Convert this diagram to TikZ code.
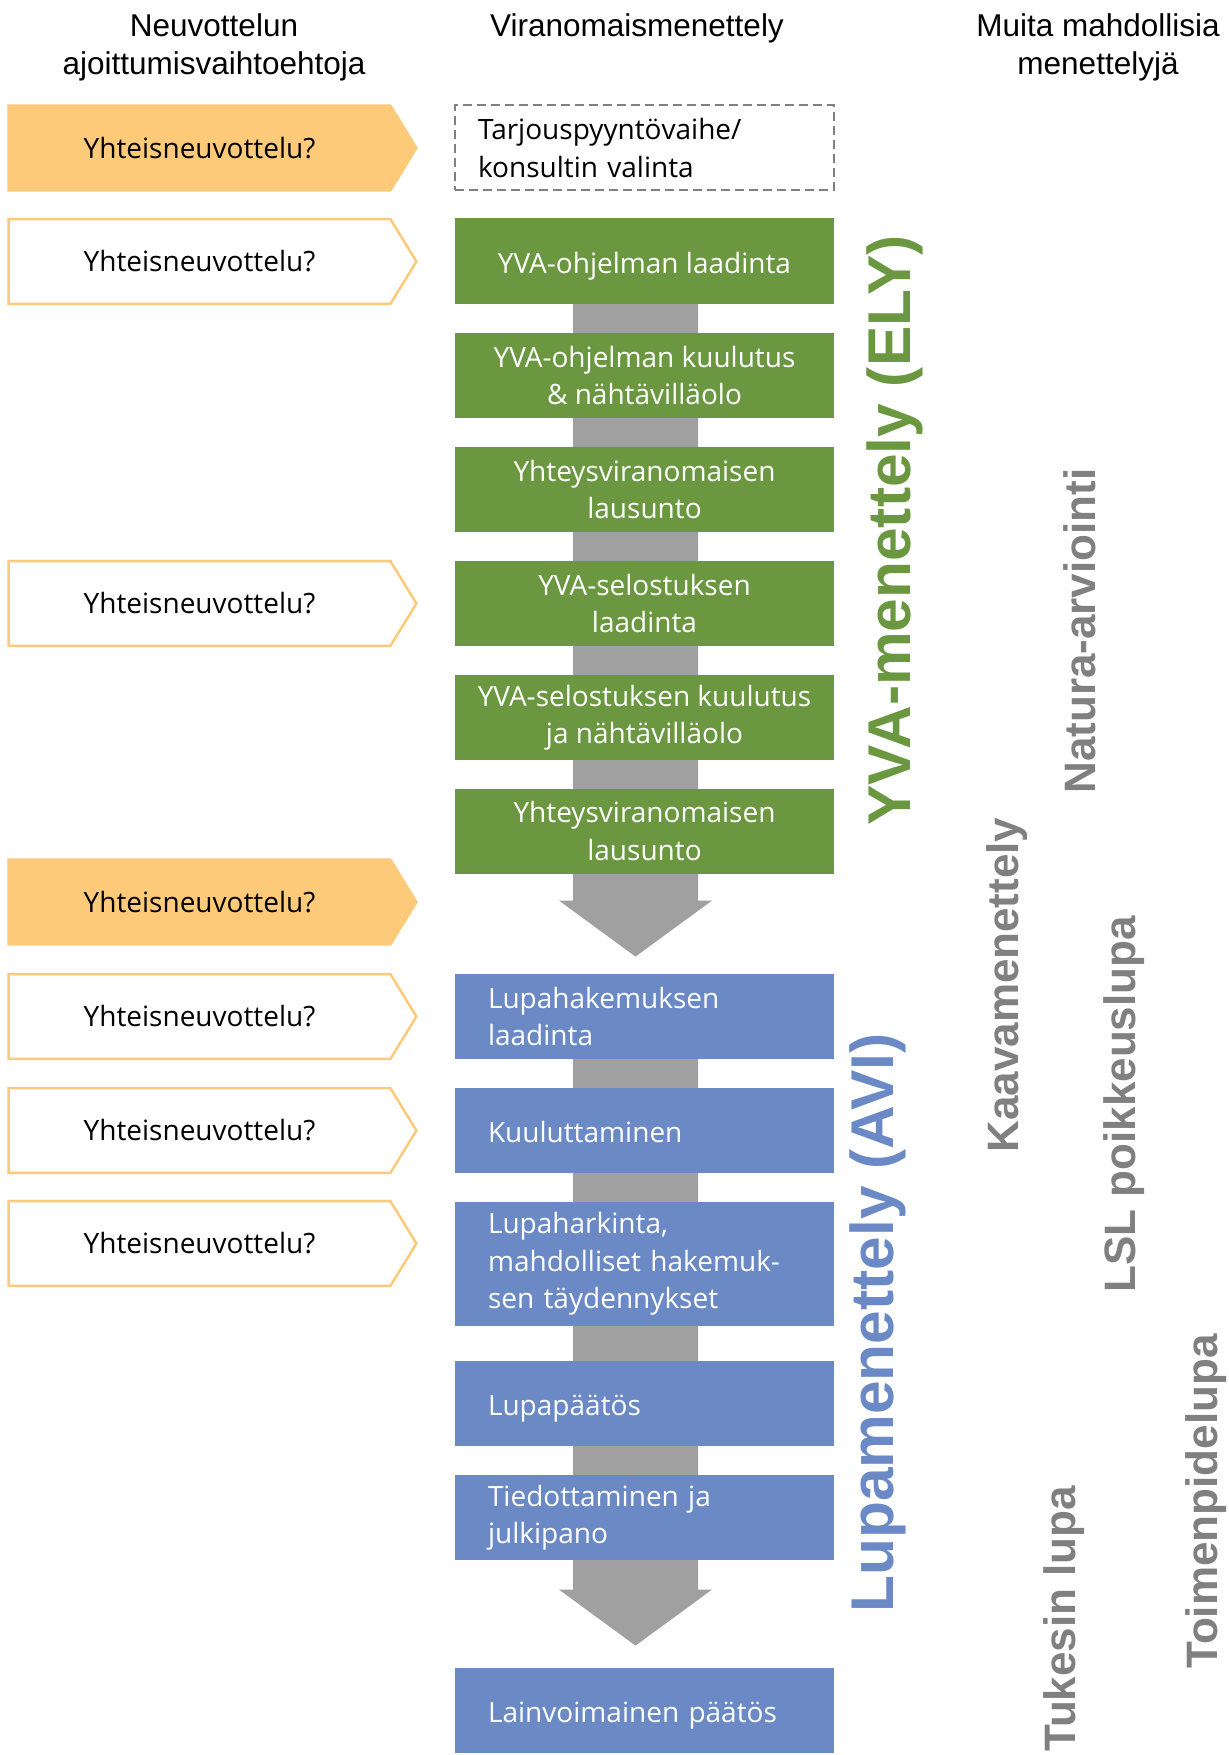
\documentclass[tikz,border=0pt]{standalone}
\usepackage{fontspec}
\setmainfont{Open Sans}
\newfontfamily\arialfont{Liberation Sans}
\usepackage{tikz}
\usetikzlibrary{positioning,calc,backgrounds}
\definecolor{yvagreen}{RGB}{106,151,63}
\definecolor{lupablue}{RGB}{106,137,197}
\definecolor{chevorange}{RGB}{253,202,122}
\definecolor{flowgray}{RGB}{160,160,160}
\definecolor{othergray}{RGB}{128,128,128}
\newcommand{\boxfont}{\fontsize{14}{18.75}\selectfont}
\newcommand{\flowarrow}[2]{%
  \fill[flowgray] ($(#1)+(-62.5,0)$) -- ($(#2)+(-62.5,-56)$) -- ($(#2)+(-76.5,-56)$)
    -- (#2) -- ($(#2)+(76.5,-56)$) -- ($(#2)+(62.5,-56)$) -- ($(#1)+(62.5,0)$) -- cycle;}
\tikzset{
  hdr/.style={font=\arialfont\fontsize{15.75}{19}\selectfont,align=center,
              anchor=base,inner sep=0pt},
  chevtext/.style={minimum width=190.5pt,minimum height=42pt,inner sep=0pt,font=\boxfont},
  stepbase/.style={minimum width=189.5pt,minimum height=42.5pt,inner sep=0pt,
                   font=\boxfont,text=white},
  oneline/.style={text height=12.5pt,text depth=0.5pt},
  yvabox/.style={stepbase,fill=yvagreen,align=center},
  lupabox/.style={stepbase,fill=lupablue,align=left,text width=156.5pt,inner xsep=16.5pt},
  tarjbox/.style={stepbase,text=black,draw=othergray,line width=1pt,
                  dash pattern=on 4.5pt off 2.5pt,align=left,text width=166.5pt,inner xsep=11.5pt},
  phase/.style={font=\arialfont\bfseries\fontsize{30.2}{31}\selectfont,
                rotate=90,anchor=base west,inner sep=0pt},
  other/.style={font=\arialfont\bfseries\fontsize{22}{24}\selectfont,text=othergray,
                rotate=90,anchor=base west,inner sep=0pt},
}
\begin{document}
\begin{tikzpicture}[x=0.5pt, y=-0.5pt]
\useasboundingbox (0,0) rectangle (1229,1755);

% column headings
\node[hdr] (hleft) at (214,75) {Neuvottelun\\ajoittumisvaihtoehtoja};
\node[hdr] (hmid) at (637,37) {Viranomaismenettely};
\node[hdr] (hright) at (1098,75) {Muita mahdollisia\\menettelyjä};

% consultation chevrons
\foreach \nm/\yc/\fc in {k1/148/chevorange, k2/261.5/white, k3/603.5/white,
    k4/902/chevorange, k5/1016.5/white, k6/1130.5/white, k7/1243.5/white} {
  \node[chevtext] (\nm) at (199.5,\yc) {Yhteisneuvottelu?};
  \begin{scope}[on background layer]
    \draw[draw=chevorange,line width=1.25pt,fill=\fc] (\nm.north west) -- (\nm.north east)
      -- ($(\nm.east)+(26,0)$) -- (\nm.south east) -- (\nm.south west) -- cycle;
  \end{scope}
}

% authority procedure
\node[tarjbox] (tarj) at (644.5,148) {Tarjouspyyntövaihe/\\konsultin valinta};
\node[yvabox,oneline] (g1) at (644.5,261) {YVA-ohjelman laadinta};
\node[yvabox] (g2) at (644.5,375.5) {YVA-ohjelman kuulutus\\\& nähtävilläolo};
\node[yvabox] (g3) at (644.5,489.5) {Yhteysviranomaisen\\lausunto};
\node[yvabox] (g4) at (644.5,603.5) {YVA-selostuksen\\laadinta};
\node[yvabox] (g5) at (644.5,717.5) {YVA-selostuksen kuulutus\\ja nähtävilläolo};
\node[yvabox] (g6) at (644.5,831) {Yhteysviranomaisen\\lausunto};
\node[lupabox] (b1) at (644.5,1016.5) {Lupahakemuksen\\laadinta};
\node[lupabox,oneline] (b2) at (644.5,1130.5) {Kuuluttaminen};
\node[lupabox,minimum height=62pt] (b3) at (644.5,1264) {Lupaharkinta,\\mahdolliset hakemuk-\\sen täydennykset};
\node[lupabox,oneline] (b4) at (644.5,1403.5) {Lupapäätös};
\node[lupabox] (b5) at (644.5,1517.5) {Tiedottaminen ja\\julkipano};
\node[lupabox,oneline] (b6) at (644.5,1710.5) {Lainvoimainen päätös};

\coordinate (a1s) at ($(g1.center)+(-9,0)$);
\coordinate (a1t) at ($(b1.north)+(-9,-17)$);
\coordinate (a2s) at ($(b1.center)+(-9,0)$);
\coordinate (a2t) at ($(b6.north)+(-9,-22)$);
\begin{scope}[on background layer]
  \flowarrow{a1s}{a1t}
  \flowarrow{a2s}{a2t}
\end{scope}

% phase labels
\node[phase,text=yvagreen] (yvalbl) at (910,826) {YVA-menettely (ELY)};
\node[phase,text=lupablue] (lupalbl) at (893,1613) {Lupamenettely (AVI)};

% other possible procedures
\node[other] (natura) at (1095,794) {Natura-arviointi};
\node[other] (kaava) at (1018,1153) {Kaavamenettely};
\node[other] (lsl) at (1135,1293) {LSL poikkeuslupa};
\node[other] (tukes) at (1075,1752) {Tukesin lupa};
\node[other] (toimenp) at (1217,1669) {Toimenpidelupa};
\end{tikzpicture}
\end{document}
